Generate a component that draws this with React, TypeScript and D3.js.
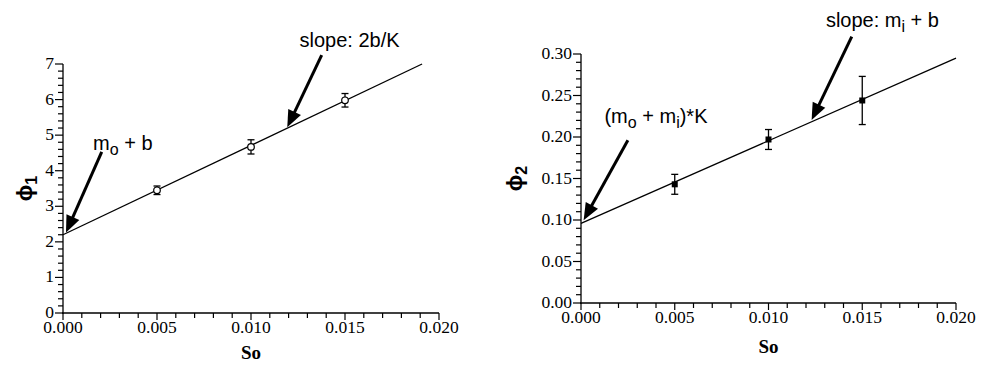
import React from "react";
import * as d3 from "d3";

// ---- data ----
const soValues = [0.005, 0.01, 0.015];
const phi1Values = [3.45, 4.67, 5.98];
const phi1Errors = [0.12, 0.2, 0.19];
const phi2Values = [0.143, 0.197, 0.244];
const phi2Errors = [0.012, 0.012, 0.029];
const fit1X = [0, 0.0191];
const fit1Y = [2.2, 7.0];
const fit2X = [0, 0.02];
const fit2Y = [0.096, 0.295];
const xTicks = [0, 0.005, 0.01, 0.015, 0.02];
const y1Ticks = [0, 1, 2, 3, 4, 5, 6, 7];
const y2Ticks = [0, 0.05, 0.1, 0.15, 0.2, 0.25, 0.3];

const SERIF = "'Liberation Serif', 'Times New Roman', serif";
const SANS = "'Liberation Sans', Arial, sans-serif";

type Arrow = { tail: [number, number]; tip: [number, number] };

function ArrowMark({ x1, y1, x2, y2 }: { x1: number; y1: number; x2: number; y2: number }) {
  const dx = x2 - x1, dy = y2 - y1;
  const len = Math.sqrt(dx * dx + dy * dy);
  const ux = dx / len, uy = dy / len;
  const headLen = 17, headW = 7;
  const bx = x2 - ux * headLen, by = y2 - uy * headLen;
  const px = -uy, py = ux;
  const pts = [
    [x2, y2],
    [bx + px * headW, by + py * headW],
    [bx - px * headW, by - py * headW],
  ];
  return (
    <g>
      <line x1={x1} y1={y1} x2={bx + ux * 2} y2={by + uy * 2} stroke="#000" strokeWidth={3} />
      <polygon points={pts.map((p) => p.join(",")).join(" ")} fill="#000" />
    </g>
  );
}

function Panel(props: {
  left: number; right: number; top: number; bottom: number;
  yMax: number; yTicks: number[]; yMinorStep: number; yFmt: (v: number) => string;
  values: number[]; errors: number[]; fitX: number[]; fitY: number[];
  marker: "circle" | "square"; yLabelSub: string; yLabelX: number; xLabelY: number;
  arrows: Arrow[]; annotations: React.ReactNode;
}) {
  const x = d3.scaleLinear().domain([0, 0.02]).range([props.left, props.right]);
  const y = d3.scaleLinear().domain([0, props.yMax]).range([props.bottom, props.top]);
  const xMinor = d3.range(0, 0.02 + 1e-9, 0.001);
  const nMinorY = Math.round(props.yMax / props.yMinorStep);
  const yMinor = d3.range(0, nMinorY + 1).map((i) => i * props.yMinorStep);
  const line = d3.line<number>().x((_, i) => x(props.fitX[i])).y((d) => y(d));
  const x0 = x(0), y0 = y(0);
  return (
    <g>
      {/* axes */}
      <line x1={x0} y1={y(props.yMax)} x2={x0} y2={y0 + 1} stroke="#000" strokeWidth={1.3} />
      <line x1={x0 - 1} y1={y0} x2={x(0.02)} y2={y0} stroke="#000" strokeWidth={1.3} />
      {xMinor.map((v, i) => (
        <line key={"xm" + i} x1={x(v)} x2={x(v)} y1={y0} y2={y0 + (i % 5 === 0 ? 7 : 5)} stroke="#000" strokeWidth={1.2} />
      ))}
      {yMinor.map((v, i) => (
        <line key={"ym" + i} x1={x0} x2={x0 - (i % 5 === 0 ? 8 : 5)} y1={y(v)} y2={y(v)} stroke="#000" strokeWidth={1.2} />
      ))}
      {xTicks.map((v) => (
        <text key={"xt" + v} x={x(v)} y={y0 + 20} textAnchor="middle" fontFamily={SERIF} fontSize={17.5} fill="#000">
          {d3.format(".3f")(v)}
        </text>
      ))}
      {props.yTicks.map((v) => (
        <text key={"yt" + v} x={x0 - 9} y={y(v) + 5} textAnchor="end" fontFamily={SERIF} fontSize={17.5} fill="#000">
          {props.yFmt(v)}
        </text>
      ))}
      {/* axis labels */}
      <text x={(x0 + x(0.02)) / 2} y={props.xLabelY} textAnchor="middle" fontFamily={SERIF} fontWeight="bold" fontSize={19} fill="#000">
        So
      </text>
      <text transform={`translate(${props.yLabelX},${(y0 + y(props.yMax)) / 2}) rotate(-90)`} textAnchor="middle" fontFamily={SANS} fontWeight="bold" fontSize={22} fill="#000">
        ϕ<tspan fontSize={16} dy={5}>{props.yLabelSub}</tspan>
      </text>
      {/* fit line */}
      <path d={line(props.fitY) || ""} fill="none" stroke="#000" strokeWidth={1.3} />
      {/* error bars and markers */}
      {soValues.map((s, i) => {
        const cx = x(s), cy = y(props.values[i]);
        const ya = y(props.values[i] + props.errors[i]);
        const yb = y(props.values[i] - props.errors[i]);
        return (
          <g key={"p" + i}>
            <line x1={cx} x2={cx} y1={ya} y2={yb} stroke="#000" strokeWidth={1.3} />
            <line x1={cx - 3.5} x2={cx + 3.5} y1={ya} y2={ya} stroke="#000" strokeWidth={1.3} />
            <line x1={cx - 3.5} x2={cx + 3.5} y1={yb} y2={yb} stroke="#000" strokeWidth={1.3} />
            {props.marker === "circle" ? (
              <circle cx={cx} cy={cy} r={3.3} fill="#fff" stroke="#000" strokeWidth={1.2} />
            ) : (
              <rect x={cx - 3} y={cy - 3} width={6} height={6} fill="#000" />
            )}
          </g>
        );
      })}
      {props.arrows.map((a, i) => (
        <ArrowMark key={"a" + i} x1={x(a.tail[0])} y1={y(a.tail[1])} x2={x(a.tip[0])} y2={y(a.tip[1])} />
      ))}
      {props.annotations}
    </g>
  );
}

export default function App() {
  // annotation positions in data coords, mapped through the same scales as the panels
  const xl = d3.scaleLinear().domain([0, 0.02]).range([63, 439]);
  const yl = d3.scaleLinear().domain([0, 7]).range([313, 64]);
  const xr = d3.scaleLinear().domain([0, 0.02]).range([581, 956]);
  const yr = d3.scaleLinear().domain([0, 0.3]).range([303, 54]);
  const annFont = { fontFamily: SANS, fontSize: 20, fill: "#000" } as const;

  const leftAnn = (
    <g>
      <text x={xl(0.0016)} y={yl(4.58)} {...annFont}>
        m<tspan fontSize={16} dy={5}>o</tspan>
        <tspan dy={-5}> + b</tspan>
      </text>
      <text x={xl(0.01258)} y={yl(7.48)} {...annFont}>slope: 2b/K</text>
    </g>
  );
  const rightAnn = (
    <g>
      <text x={xr(0.00125)} y={yr(0.217)} {...annFont}>
        (m<tspan fontSize={16} dy={5}>o</tspan>
        <tspan dy={-5}> + m</tspan>
        <tspan fontSize={16} dy={5}>i</tspan>
        <tspan dy={-5}>)*K</tspan>
      </text>
      <text x={xr(0.01306)} y={yr(0.333)} {...annFont}>
        slope: m<tspan fontSize={16} dy={5}>i</tspan>
        <tspan dy={-5}> + b</tspan>
      </text>
    </g>
  );

  return (
    <svg width={999} height={383} style={{ position: "absolute", left: 0, top: 0, background: "#fff" }}>
      <rect width={999} height={383} fill="#fff" />
      <Panel
        left={63} right={439} top={64} bottom={313}
        yMax={7} yTicks={y1Ticks} yMinorStep={0.2} yFmt={(v) => d3.format("d")(v)}
        values={phi1Values} errors={phi1Errors} fitX={fit1X} fitY={fit1Y}
        marker="circle" yLabelSub="1" yLabelX={32} xLabelY={359}
        arrows={[
          { tail: [0.00206, 4.53], tip: [0.00016, 2.26] },
          { tail: [0.01376, 7.25], tip: [0.01193, 5.22] },
        ]}
        annotations={leftAnn}
      />
      <Panel
        left={581} right={956} top={54} bottom={303}
        yMax={0.3} yTicks={y2Ticks} yMinorStep={0.01} yFmt={(v) => d3.format(".2f")(v)}
        values={phi2Values} errors={phi2Errors} fitX={fit2X} fitY={fit2Y}
        marker="square" yLabelSub="2" yLabelX={522} xLabelY={353}
        arrows={[
          { tail: [0.0025, 0.196], tip: [0.00014, 0.0998] },
          { tail: [0.01444, 0.321], tip: [0.0123, 0.2204] },
        ]}
        annotations={rightAnn}
      />
    </svg>
  );
}
